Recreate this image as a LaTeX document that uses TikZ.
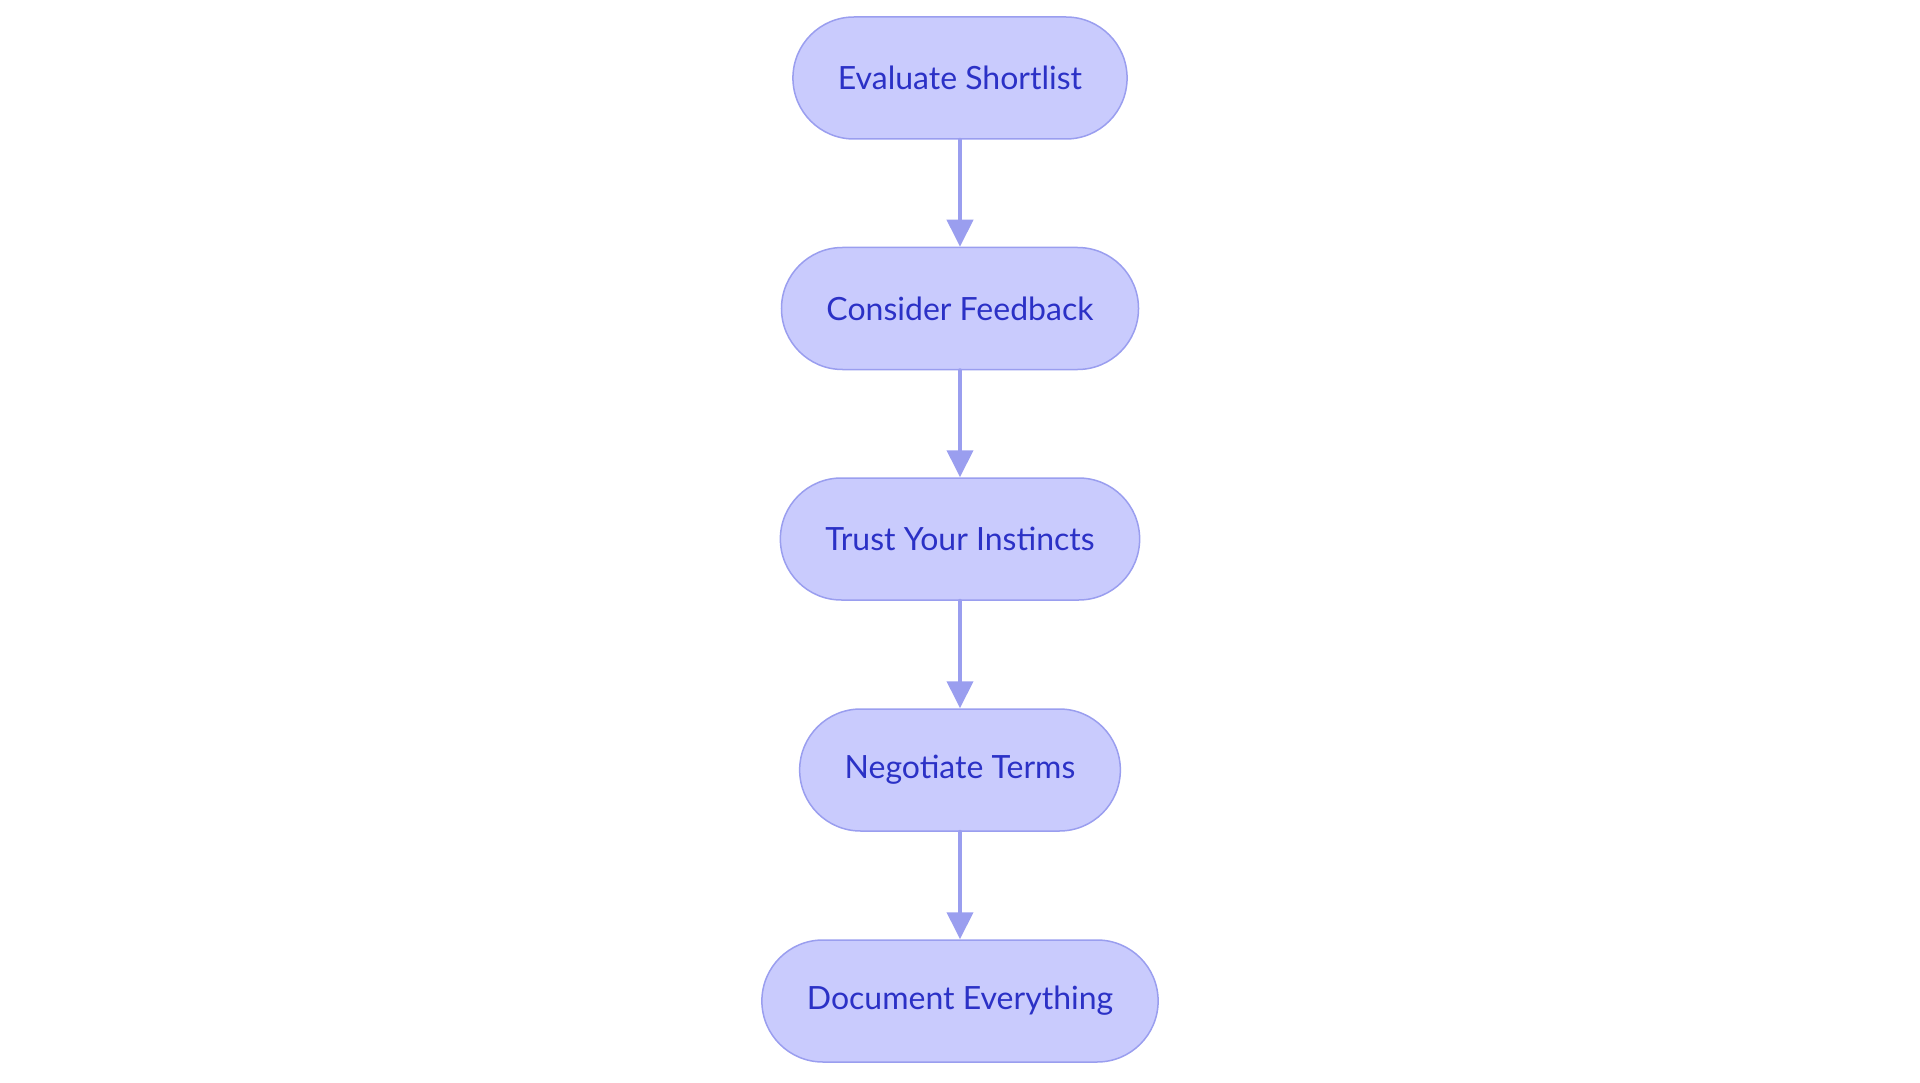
\documentclass[tikz,border=0pt]{standalone}
\usepackage{fontspec}
\setmainfont{Lato}
\usetikzlibrary{arrows.meta}
\definecolor{boxfill}{HTML}{C9CBFD}
\definecolor{boxline}{HTML}{9A9EEF}
\definecolor{boxtext}{HTML}{2B31C6}
\tikzset{
	stage/.style={draw=boxline, fill=boxfill, line width=1.5pt, rounded corners=61pt,
		minimum height=122pt, inner xsep=45pt, text=boxtext,
		font=\fontsize{32}{38}\selectfont},
	link/.style={draw=boxline, line width=4pt, -{Triangle[length=27pt,width=26pt]}}
}
\begin{document}
\begin{tikzpicture}[x=1pt, y=1pt, line cap=round, line join=round]
	\useasboundingbox (0,0) rectangle (1920,-1083);
	\path (960,-78) coordinate (A)
	(960,-308.5) coordinate (B)
	(960,-539) coordinate (C)
	(960,-770) coordinate (D)
	(960,-1001) coordinate (E);
	
	\node[stage] (eval) at (A) {Evaluate Shortlist};
	\node[stage] (feed) at (B) {Consider Feedback};
	\node[stage] (trust) at (C) {Trust Your Instincts};
	\node[stage] (nego) at (D) {Negotiate Terms};
	\node[stage] (docu) at (E) {Document Everything};
	
	\foreach \u/\v in {eval/feed, feed/trust, trust/nego, nego/docu}
		\draw[link] (\u) -- (\v);
\end{tikzpicture}
\end{document}
